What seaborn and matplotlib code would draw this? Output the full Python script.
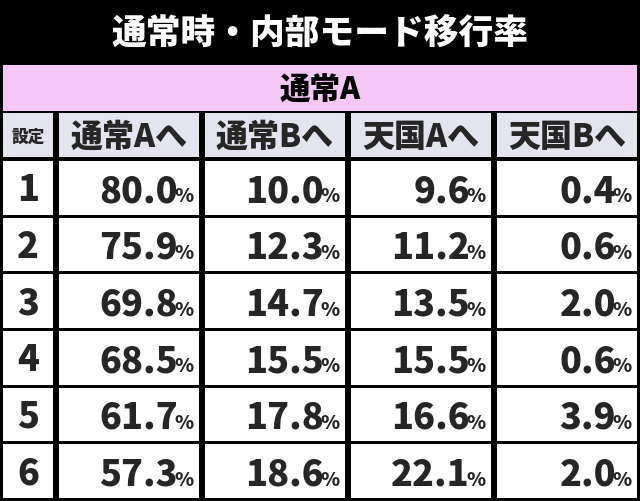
import matplotlib
matplotlib.use("Agg")
import matplotlib.pyplot as plt
import seaborn as sns
from matplotlib.patches import Rectangle

sns.set_theme(style="white")
plt.rcParams['font.family'] = ['Noto Sans CJK JP', 'DejaVu Sans']

title = "通常時・内部モード移行率"
subtitle = "通常A"
row_header = "設定"
columns = ["通常Aへ", "通常Bへ", "天国Aへ", "天国Bへ"]
settings = ["1", "2", "3", "4", "5", "6"]
to_normal_a = [80.0, 75.9, 69.8, 68.5, 61.7, 57.3]
to_normal_b = [10.0, 12.3, 14.7, 15.5, 17.8, 18.6]
to_heaven_a = [9.6, 11.2, 13.5, 15.5, 16.6, 22.1]
to_heaven_b = [0.4, 0.6, 2.0, 0.6, 3.9, 2.0]
series = [to_normal_a, to_normal_b, to_heaven_a, to_heaven_b]

fig = plt.figure(figsize=(6.4, 5.02), dpi=100)
ax = fig.add_axes([0, 0, 1, 1])
ax.set_xlim(0, 640); ax.set_ylim(502, 0); ax.axis('off')
fig.patch.set_facecolor('black')

xs = [0, 56, 202, 348, 494, 640]
g = 3
ax.add_patch(Rectangle((0, 0), 640, 64, color='black'))
ax.text(320, 33, title, color='white', fontsize=25, fontweight='heavy', ha='center', va='center')
ax.add_patch(Rectangle((g, 66), 640 - 2*g, 46, facecolor='#f7c8f7', edgecolor='none'))
ax.text(320, 90, subtitle, fontsize=22, fontweight='heavy', ha='center', va='center', color='black')
hy0, hy1 = 114, 160
for i in range(5):
    ax.add_patch(Rectangle((xs[i] + g, hy0), xs[i+1] - xs[i] - 2*g, hy1 - hy0 - 2,
                           facecolor='#e4e4f0', edgecolor='none'))
ax.text((xs[0] + xs[1]) / 2, 137, row_header, fontsize=12, fontweight='heavy', ha='center', va='center')
for j, c in enumerate(columns):
    ax.text((xs[j+1] + xs[j+2]) / 2, 137, c, fontsize=23, fontweight='heavy', ha='center', va='center')
rh = (502 - 162) / 6
for r, s in enumerate(settings):
    y0 = 162 + r * rh
    for i in range(5):
        ax.add_patch(Rectangle((xs[i] + g, y0), xs[i+1] - xs[i] - 2*g, rh - 3, facecolor='white', edgecolor='none'))
    yc = y0 + rh / 2
    ax.text((xs[0] + xs[1]) / 2, yc, s, fontsize=26, fontweight='heavy', ha='center', va='center')
    for j, vals in enumerate(series):
        xr = xs[j+2] - 8
        ax.text(xr, yc + 12, "%", fontsize=14, fontweight='heavy', ha='right', va='baseline')
        ax.text(xr - 16, yc + 12, f"{vals[r]:.1f}", fontsize=26, fontweight='heavy', ha='right', va='baseline')

fig.savefig("out.png", dpi=100, facecolor='black')
